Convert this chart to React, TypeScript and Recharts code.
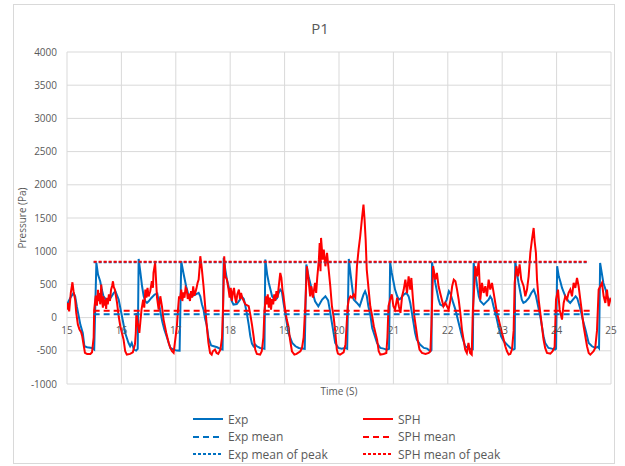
import { LineChart, Line, XAxis, YAxis, CartesianGrid, ReferenceDot } from 'recharts';

const xTicks = [15, 16, 17, 18, 19, 20, 21, 22, 23, 24, 25];
const yTicks = [-1000, -500, 0, 500, 1000, 1500, 2000, 2500, 3000, 3500, 4000];

// Exp: [time (s), pressure (Pa)]
const expSamples: [number, number][] = [
  [15.0, 196], [15.06, 296], [15.12, 371], [15.15, 321], [15.18, 171], [15.21, 45], [15.245, -106],
  [15.29, -231], [15.32, -432], [15.37, -447], [15.46, -457], [15.5, -482],
  [15.54, 823], [15.57, 647], [15.61, 547], [15.64, 422], [15.67, 321], [15.73, 260], [15.8, 296],
  [15.86, 372], [15.89, 397], [15.95, 271], [16.01, 20], [16.07, -231], [16.13, -382], [16.16, -432],
  [16.19, -382], [16.23, -482], [16.27, -497], [16.3, -470],
  [16.317, 883], [16.35, 673], [16.38, 472], [16.41, 321], [16.44, 246], [16.47, 221], [16.5, 246],
  [16.55, 296], [16.61, 346], [16.66, 361], [16.68, 271], [16.71, 120], [16.75, -55], [16.79, -181],
  [16.83, -281], [16.87, -382], [16.9, -457], [16.96, -482], [17.02, -497], [17.07, -500],
  [17.1, 848], [17.14, 672], [17.19, 472], [17.23, 346], [17.29, 321], [17.36, 346], [17.42, 372],
  [17.45, 321], [17.48, 200], [17.51, 120], [17.54, -20], [17.57, -120], [17.6, -306], [17.65, -420],
  [17.7, -432], [17.76, -447], [17.82, -472], [17.86, -480],
  [17.88, 900], [17.91, 723], [17.94, 572], [17.97, 472], [18.0, 346], [18.03, 246], [18.06, 196],
  [18.12, 205], [18.18, 271], [18.21, 321], [18.25, 280], [18.28, 171], [18.31, 45], [18.34, -106],
  [18.37, -281], [18.4, -392], [18.43, -432], [18.46, -407], [18.49, -432], [18.55, -457],
  [18.61, -467], [18.63, -470],
  [18.645, 873], [18.68, 648], [18.71, 522], [18.74, 422], [18.77, 321], [18.82, 271], [18.86, 290],
  [18.89, 371], [18.92, 422], [18.95, 390], [18.98, 221], [19.01, 70], [19.04, -80], [19.07, -231],
  [19.14, -382], [19.2, -432], [19.26, -457], [19.32, -467], [19.37, -470],
  [19.4, 800], [19.44, 622], [19.5, 422], [19.56, 246], [19.62, 171], [19.69, 271], [19.75, 321],
  [19.8, 260], [19.83, 120], [19.86, -30], [19.9, -231], [19.93, -382], [19.99, -457], [20.05, -467],
  [20.11, -457], [20.15, -470],
  [20.18, 883], [20.21, 673], [20.24, 472], [20.27, 271], [20.33, 221], [20.38, 171], [20.42, 271],
  [20.45, 346], [20.48, 397], [20.51, 330], [20.54, 171], [20.58, 20], [20.61, -156], [20.64, -231],
  [20.7, -382], [20.76, -457], [20.82, -467], [20.88, -482], [20.92, -470],
  [20.94, 833], [20.97, 673], [21.0, 547], [21.03, 422], [21.07, 321], [21.1, 271], [21.13, 285],
  [21.19, 346], [21.24, 371], [21.28, 320], [21.31, 221], [21.34, 70], [21.37, -80], [21.4, -231],
  [21.43, -331], [21.49, -407], [21.56, -457], [21.62, -467], [21.68, -507], [21.7, -490],
  [21.71, 833], [21.74, 673], [21.77, 522], [21.8, 397], [21.83, 271], [21.86, 196], [21.92, 171],
  [21.98, 271], [22.02, 397], [22.05, 360], [22.1, 221], [22.14, 120], [22.2, -80], [22.26, -281],
  [22.32, -432], [22.38, -460], [22.44, -482], [22.46, -480],
  [22.475, 823], [22.51, 648], [22.54, 472], [22.57, 321], [22.6, 246], [22.66, 196], [22.7, 230],
  [22.75, 271], [22.78, 321], [22.81, 280], [22.84, 171], [22.89, 20], [22.93, -130], [22.98, -281],
  [23.03, -357], [23.09, -407], [23.15, -457], [23.21, -482], [23.23, -470],
  [23.24, 848], [23.27, 673], [23.3, 522], [23.33, 397], [23.36, 271], [23.39, 221], [23.43, 240],
  [23.49, 296], [23.535, 371], [23.58, 422], [23.62, 330], [23.66, 171], [23.7, 20], [23.73, -130],
  [23.76, -281], [23.79, -382], [23.85, -457], [23.91, -467], [23.97, -482], [23.99, -470],
  [24.01, 773], [24.04, 622], [24.07, 540], [24.1, 447], [24.16, 321], [24.22, 246], [24.25, 221],
  [24.3, 271], [24.35, 321], [24.38, 290], [24.44, 120], [24.48, -30], [24.53, -181], [24.56, -281],
  [24.59, -382], [24.65, -432], [24.71, -457], [24.76, -440], [24.78, -460],
  [24.8, 823], [24.83, 673], [24.86, 522], [24.9, 422], [24.93, 321], [24.96, 271], [25.0, 271],
];

// SPH: [time (s), pressure (Pa)]
const sphSamples: [number, number][] = [
  [15.0, 120], [15.02, 220], [15.04, 95], [15.07, 372], [15.1, 532], [15.12, 397], [15.15, 271],
  [15.17, 70], [15.2, -106], [15.23, -181], [15.26, -221], [15.28, -281], [15.31, -432], [15.33, -532],
  [15.37, -547], [15.43, -547], [15.46, -522], [15.49, -300], [15.5, 120], [15.52, 271],
  [15.53, 330], [15.55, 180], [15.57, 420], [15.58, 250], [15.6, 370], [15.61, 200], [15.63, 497],
  [15.64, 300], [15.66, 150], [15.67, 320], [15.69, 180], [15.7, 270], [15.72, 130], [15.73, 300],
  [15.75, 200], [15.77, 350], [15.79, 250], [15.81, 420], [15.83, 480], [15.845, 547], [15.86, 460],
  [15.88, 422], [15.92, 221], [15.95, 20], [15.98, -130], [16.01, -231], [16.04, -331], [16.07, -507],
  [16.1, -557], [16.16, -547], [16.21, -522], [16.25, -400], [16.265, -231], [16.275, 70],
  [16.3, -80], [16.33, -231], [16.35, -50], [16.37, 120], [16.4, 271], [16.42, 150], [16.44, 422],
  [16.46, 300], [16.48, 447], [16.5, 320], [16.53, 397], [16.56, 547], [16.58, 450], [16.59, 673],
  [16.62, 823], [16.64, 522], [16.655, 300], [16.685, 120], [16.715, 321], [16.745, 171],
  [16.775, -30], [16.825, -231], [16.87, -382], [16.9, -457], [16.93, -507], [16.96, -532],
  [16.99, -331], [17.02, -130], [17.04, 120], [17.06, 321],
  [17.08, 280], [17.1, 420], [17.12, 250], [17.14, 380], [17.16, 300], [17.18, 450], [17.2, 422],
  [17.22, 280], [17.24, 360], [17.26, 250], [17.28, 400], [17.3, 300], [17.32, 470], [17.34, 330],
  [17.36, 380], [17.38, 440], [17.4, 520], [17.42, 572], [17.44, 780], [17.45, 924], [17.47, 800],
  [17.48, 723], [17.51, 472], [17.54, 170], [17.57, -131], [17.6, -382], [17.63, -532], [17.66, -557],
  [17.68, -507], [17.72, -482], [17.75, -532], [17.78, -547], [17.82, -482], [17.85, -300],
  [17.87, 200], [17.89, 924], [17.91, 622], [17.94, 572], [17.97, 422], [17.99, 300], [18.01, 447],
  [18.03, 250], [18.05, 380], [18.07, 447], [18.09, 300], [18.11, 221], [18.13, 350], [18.16, 422],
  [18.18, 280], [18.2, 371], [18.22, 300], [18.25, 250], [18.28, 200], [18.34, 171], [18.37, 45],
  [18.4, -106], [18.43, -281], [18.46, -482], [18.49, -547], [18.55, -557], [18.58, -507],
  [18.61, -300], [18.63, 100], [18.655, 321],
  [18.67, 200], [18.69, 350], [18.71, 150], [18.73, 300], [18.75, 120], [18.77, 280], [18.79, 200],
  [18.81, 350], [18.83, 250], [18.85, 400], [18.87, 300], [18.89, 450], [18.92, 673], [18.94, 600],
  [18.96, 422], [18.98, 320], [19.01, 120], [19.04, -30], [19.07, -130], [19.1, -331], [19.135, -507],
  [19.18, -557], [19.22, -547], [19.29, -507], [19.32, -457], [19.35, -300], [19.38, 171],
  [19.41, 773], [19.44, 572], [19.47, 321], [19.49, 472], [19.52, 300], [19.56, 522], [19.58, 372],
  [19.6, 600], [19.63, 873], [19.645, 1124], [19.66, 700], [19.67, 1200], [19.7, 874], [19.72, 1024],
  [19.75, 773], [19.78, 974], [19.81, 723], [19.84, 472], [19.87, 171], [19.9, 20], [19.93, -200],
  [19.96, -482], [19.98, -542], [20.02, -557], [20.085, -522], [20.12, -400], [20.16, 171],
  [20.18, 271], [20.21, 321], [20.24, 300], [20.27, 346], [20.3, 300], [20.33, 773], [20.36, 1024],
  [20.39, 1225], [20.42, 1476], [20.45, 1702], [20.47, 1476], [20.49, 1175], [20.51, 723],
  [20.545, 422], [20.575, 171], [20.61, 20], [20.64, -130], [20.7, -331], [20.73, -507], [20.76, -557],
  [20.82, -547], [20.87, -532], [20.89, -300], [20.91, 171],
  [20.94, 271], [20.97, 350], [21.0, 171], [21.03, 120], [21.07, 300], [21.1, 171], [21.13, 70],
  [21.16, 322], [21.19, 422], [21.22, 572], [21.25, 370], [21.28, 622], [21.31, 420], [21.33, 597],
  [21.36, 271], [21.385, 20], [21.42, -181], [21.445, -331], [21.48, -482], [21.525, -532],
  [21.59, -547], [21.65, -532], [21.68, -507], [21.7, -100], [21.73, 773], [21.77, 572], [21.8, 673],
  [21.83, 472], [21.86, 371], [21.89, 271], [21.92, 171], [21.955, 221], [21.985, 171], [22.015, 120],
  [22.05, 271], [22.08, 472], [22.11, 572], [22.14, 547], [22.17, 422], [22.2, 271], [22.23, 70],
  [22.26, -181], [22.29, -331], [22.32, -482], [22.35, -532], [22.38, -382], [22.41, -532],
  [22.44, -557], [22.46, 100],
  [22.475, 300], [22.506, 773], [22.536, 622], [22.567, 848], [22.585, 522], [22.598, 271],
  [22.628, 522], [22.659, 372], [22.69, 472], [22.72, 321], [22.751, 572], [22.781, 422],
  [22.812, 522], [22.843, 372], [22.873, 221], [22.904, 70], [22.935, -30], [22.965, -130],
  [22.996, -231], [23.027, -331], [23.057, -432], [23.088, -507], [23.119, -557], [23.149, -547],
  [23.18, -482], [23.21, -200], [23.229, 522], [23.26, 773], [23.29, 622], [23.32, 800], [23.35, 572],
  [23.394, 472], [23.425, 321], [23.456, 422], [23.486, 622], [23.517, 974], [23.547, 1175],
  [23.578, 1350], [23.596, 1150], [23.62, 974], [23.64, 572], [23.67, 271], [23.7, 70], [23.73, -130],
  [23.76, -331], [23.79, -457], [23.823, -532], [23.885, -542], [23.927, -507], [23.964, -440],
  [23.989, 271], [24.026, 422], [24.056, 120], [24.099, -30], [24.13, 221], [24.16, 321], [24.19, 271],
  [24.22, 371], [24.252, 422], [24.283, 321], [24.313, 522], [24.344, 447], [24.375, 597],
  [24.405, 472], [24.436, 271], [24.467, 70], [24.497, -130], [24.528, -281], [24.559, -432],
  [24.59, -532], [24.62, -557], [24.68, -507], [24.71, -457], [24.742, -200], [24.773, 422],
  [24.804, 472], [24.834, 522], [24.865, 321], [24.896, 221], [24.926, 422], [24.957, 171],
  [24.987, 271], [25.0, 250],
];

// flat summary lines: start / end time and level
const meanSpan = [15.49, 24.62];
const peakSpan = [15.49, 24.59];
const expMean = 50;
const sphMean = 105;
const expPeakMean = 835;
const sphPeakMean = 840;

const BLUE = '#0070C0';
const RED = '#FF0000';
const GREY = '#595959';
const FONT = '"Open Sans", sans-serif';

const toRows = (s: [number, number][]) => s.map(([t, v]) => ({ t, v }));
const flat = (span: number[], v: number) => span.map((t) => ({ t, v }));

const legendItems = [
  { name: 'Exp', color: BLUE, dash: undefined },
  { name: 'SPH', color: RED, dash: undefined },
  { name: 'Exp mean', color: BLUE, dash: '6 4' },
  { name: 'SPH mean', color: RED, dash: '6 4' },
  { name: 'Exp mean of peak', color: BLUE, dash: '3 2' },
  { name: 'SPH mean of peak', color: RED, dash: '3 2' },
];

const EmptyTick = () => <g />;

export default function App() {
  return (
    <div
      style={{
        position: 'absolute',
        left: 0,
        top: 0,
        width: 625,
        height: 466,
        background: '#fff',
        fontFamily: FONT,
      }}
    >
      <div
        style={{
          position: 'absolute',
          left: 13,
          top: 4,
          width: 600,
          height: 458,
          border: '1px solid #d9d9d9',
        }}
      />
      <div
        style={{
          position: 'absolute',
          left: 0,
          width: 640,
          top: 18,
          textAlign: 'center',
          fontSize: 15,
          color: GREY,
        }}
      >
        P1
      </div>
      <div
        style={{
          position: 'absolute',
          left: 22,
          top: 218,
          transform: 'translate(-50%, -50%) rotate(-90deg)',
          whiteSpace: 'nowrap',
          fontSize: 10,
          color: GREY,
        }}
      >
        Pressure (Pa)
      </div>
      <div style={{ position: 'absolute', left: 0, top: 0 }}>
        <LineChart
          width={625}
          height={466}
          margin={{ top: 52, right: 14, left: 17, bottom: 62 }}
        >
          <CartesianGrid stroke="#d9d9d9" />
          <XAxis
            type="number"
            dataKey="t"
            domain={[15, 25]}
            ticks={xTicks}
            tick={EmptyTick}
            tickLine={false}
            axisLine={false}
            height={20}
            allowDataOverflow
            label={{ value: 'Time (S)', position: 'insideTop', offset: 4, fill: GREY, fontSize: 10 }}
          />
          <YAxis
            type="number"
            domain={[-1000, 4000]}
            ticks={yTicks}
            width={50}
            tickLine={false}
            axisLine={false}
            tickMargin={4}
            tick={{ fill: GREY, fontSize: 10 }}
          />
          {xTicks.map((t) => (
            <ReferenceDot
              key={t}
              x={t}
              y={0}
              r={1}
              fill="none"
              stroke="none"
              label={{ value: String(t), position: 'bottom', offset: 8, fill: GREY, fontSize: 10 }}
            />
          ))}
          <Line data={toRows(expSamples)} dataKey="v" type="linear" stroke={BLUE} strokeWidth={2} dot={false} activeDot={false} isAnimationActive={false} />
          <Line data={toRows(sphSamples)} dataKey="v" type="linear" stroke={RED} strokeWidth={2} dot={false} activeDot={false} isAnimationActive={false} />
          <Line data={flat(meanSpan, expMean)} dataKey="v" stroke={BLUE} strokeWidth={2} strokeDasharray="6 4" dot={false} activeDot={false} isAnimationActive={false} />
          <Line data={flat(meanSpan, sphMean)} dataKey="v" stroke={RED} strokeWidth={2} strokeDasharray="6 4" dot={false} activeDot={false} isAnimationActive={false} />
          <Line data={flat(peakSpan, expPeakMean)} dataKey="v" stroke={BLUE} strokeWidth={2} strokeDasharray="3 2" dot={false} activeDot={false} isAnimationActive={false} />
          <Line data={flat(peakSpan, sphPeakMean)} dataKey="v" stroke={RED} strokeWidth={2} strokeDasharray="3 2" dot={false} activeDot={false} isAnimationActive={false} />
        </LineChart>
      </div>
      <div style={{ position: 'absolute', left: 193, top: 410 }}>
        {legendItems.map((item, i) => (
          <div
            key={item.name}
            style={{
              position: 'absolute',
              left: (i % 2) * 170,
              top: Math.floor(i / 2) * 17.5,
              display: 'flex',
              alignItems: 'center',
              height: 18,
              whiteSpace: 'nowrap',
              fontSize: 12,
              color: GREY,
            }}
          >
            <svg width={32} height={6} style={{ marginRight: 3 }}>
              <line x1={0} y1={3} x2={30} y2={3} stroke={item.color} strokeWidth={2} strokeDasharray={item.dash} />
            </svg>
            {item.name}
          </div>
        ))}
      </div>
    </div>
  );
}
